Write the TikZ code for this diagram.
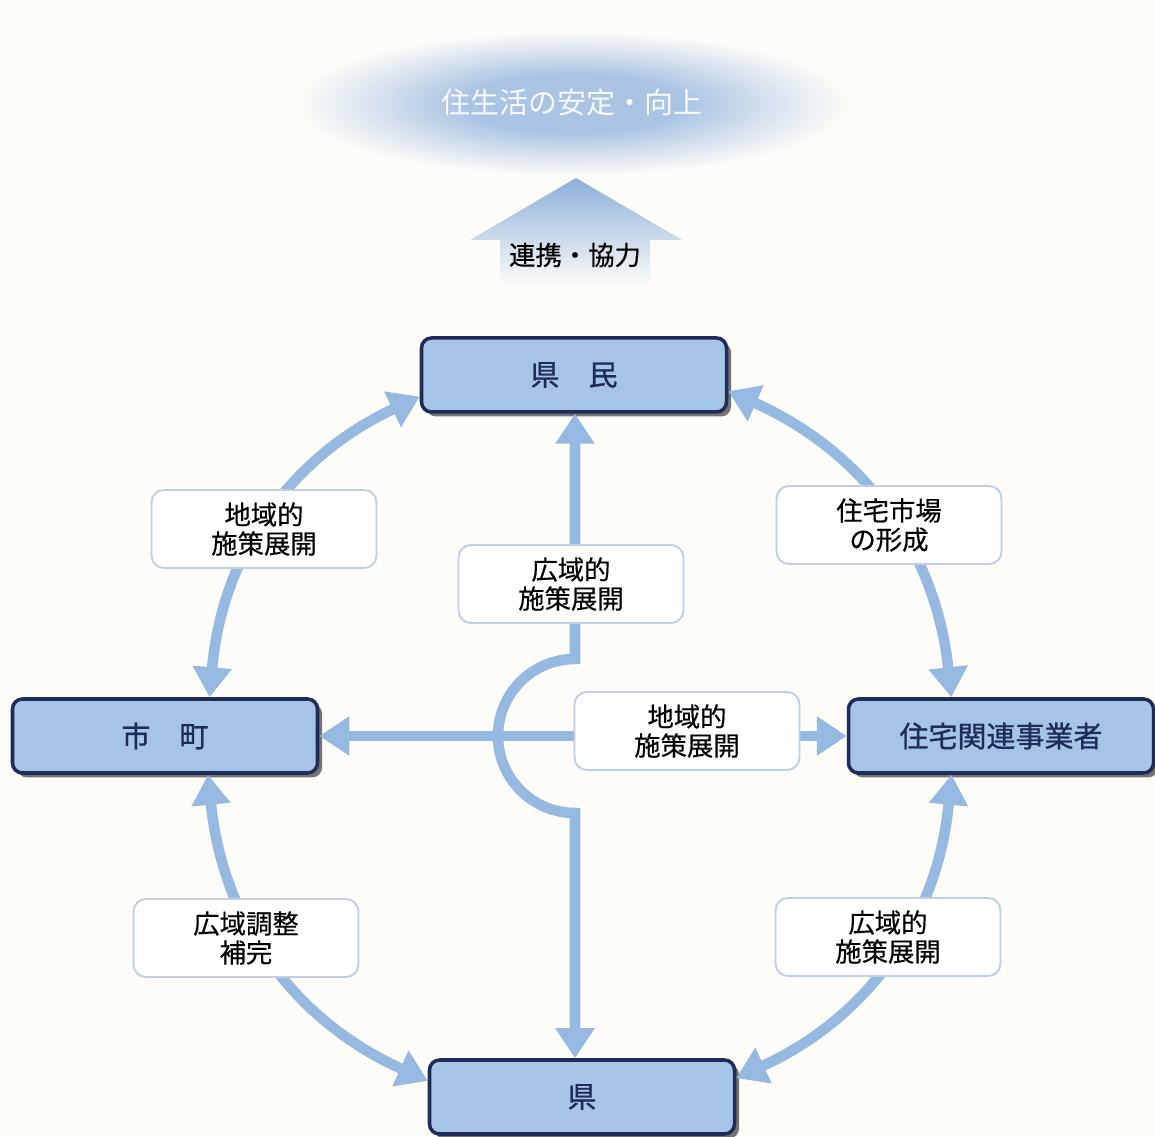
\documentclass[tikz,border=0pt]{standalone}
\usepackage{fontspec}
\setmainfont{Noto Sans CJK JP}
\newfontfamily\medfont{Noto Sans CJK JP}[FakeBold=0.4]
\newfontfamily\heavyfont{Noto Sans CJK JP}[FakeBold=0.9]
\usetikzlibrary{arrows.meta,shadows}

\definecolor{bgcream}{RGB}{253,252,248}
\definecolor{linkblue}{RGB}{150,185,226}
\definecolor{boxblue}{RGB}{166,196,230}
\definecolor{boxnavy}{RGB}{30,44,90}
\definecolor{tagline}{RGB}{192,206,230}
\definecolor{cloudblue}{RGB}{170,196,228}
\definecolor{uptop}{RGB}{140,176,218}
\colorlet{cloudmid}{cloudblue!45!bgcream}
\colorlet{upmid}{linkblue!75!bgcream}
\pgfdeclareradialshading{cloudfade}{\pgfpoint{0bp}{0bp}}{color(0bp)=(cloudblue); color(10bp)=(cloudblue); color(18bp)=(cloudmid); color(25bp)=(bgcream); color(50bp)=(bgcream)}

\begin{document}
\begin{tikzpicture}[
    % 主体: 角丸の青い箱, 濃紺の枠, 影
    actorbox/.style={rectangle, rounded corners=0.2cm, draw=boxnavy, line width=2pt, fill=boxblue,
        minimum width=6.1cm, minimum height=1.48cm, text=boxnavy, font=\heavyfont\fontsize{16.5}{18}\selectfont,
        drop shadow={shadow xshift=0.09cm, shadow yshift=-0.09cm, fill=black!55, opacity=1}},
    % 矢印のラベル: 白い角丸の箱
    tagbox/.style={rectangle, rounded corners=0.25cm, draw=tagline, line width=1.1pt, fill=white,
        minimum width=4.5cm, minimum height=1.56cm, align=center, font=\medfont\fontsize{15}{16.5}\selectfont},
    % 連携の矢印: 太い水色の線, 両端に三角
    linkline/.style={line width=6pt, draw=linkblue,
        {Triangle[length=0.6cm,width=0.75cm]}-{Triangle[length=0.6cm,width=0.75cm]}}
]
    \fill[bgcream] (0,0) rectangle (23.1,22.72);
    \useasboundingbox (0,0) rectangle (23.1,22.72);

    % --- 目標: 雲と上向きの矢印 ---
    \shade[shading=cloudfade] (5.9,19.2) rectangle (17.0,22.1);
    \node[text=white!90!cloudblue, font=\fontsize{16.5}{18}\selectfont] (goal) at (11.44,20.66) {住生活の安定・向上};
    \shade[top color=uptop, middle color=upmid, bottom color=bgcream]
        (11.52,19.16) -- (13.64,17.92) -- (13.0,17.92) -- (13.0,17.0)
        -- (10.0,17.0) -- (10.0,17.92) -- (9.40,17.92) -- cycle;
    \node[font=\medfont\fontsize{15}{16.5}\selectfont] (renkei) at (11.5,17.62) {連携・協力};

    % --- 主体 (上, 左, 右, 下) ---
    \node[actorbox] (kenmin) at (11.48,15.22) {県　民};
    \node[actorbox] (shicho) at (3.30,8.0) {市　町};
    \node[actorbox] (jutaku) at (20.02,8.0) {住宅関連事業者};
    \node[actorbox] (ken) at (11.64,0.78) {県};

    % 中央の迂回の上端と下端
    \coordinate (hubN) at (11.5,9.54);
    \coordinate (hubS) at (11.5,6.46);

    % --- 外側の円弧 ---
    \draw[linkline] (kenmin.188) to[bend right=30] (shicho.41);
    \draw[linkline] (kenmin.354) to[bend left=30] (jutaku.142);
    \draw[linkline] (shicho.318) to[bend right=30] (ken.174);
    \draw[linkline] (jutaku.218) to[bend left=30] (ken.7);

    % --- 中央の縦線と横線 ---
    \draw[linkline] (kenmin.south -| hubN) -- (hubN)
        arc[start angle=90, end angle=270, radius=1.54] -- (ken.north -| hubS);
    \draw[linkline] (shicho) -- (jutaku);

    % --- ラベル ---
    \node[tagbox] (chiiki1) at (5.28,12.14) {地域的\\施策展開};
    \node[tagbox] (shijo) at (17.78,12.22) {住宅市場\\の形成};
    \node[tagbox] (koiki1) at (11.42,11.04) {広域的\\施策展開};
    \node[tagbox] (chiiki2) at (13.74,8.10) {地域的\\施策展開};
    \node[tagbox] (chosei) at (4.92,3.96) {広域調整\\補完};
    \node[tagbox] (koiki2) at (17.76,3.98) {広域的\\施策展開};

\end{tikzpicture}
\end{document}
